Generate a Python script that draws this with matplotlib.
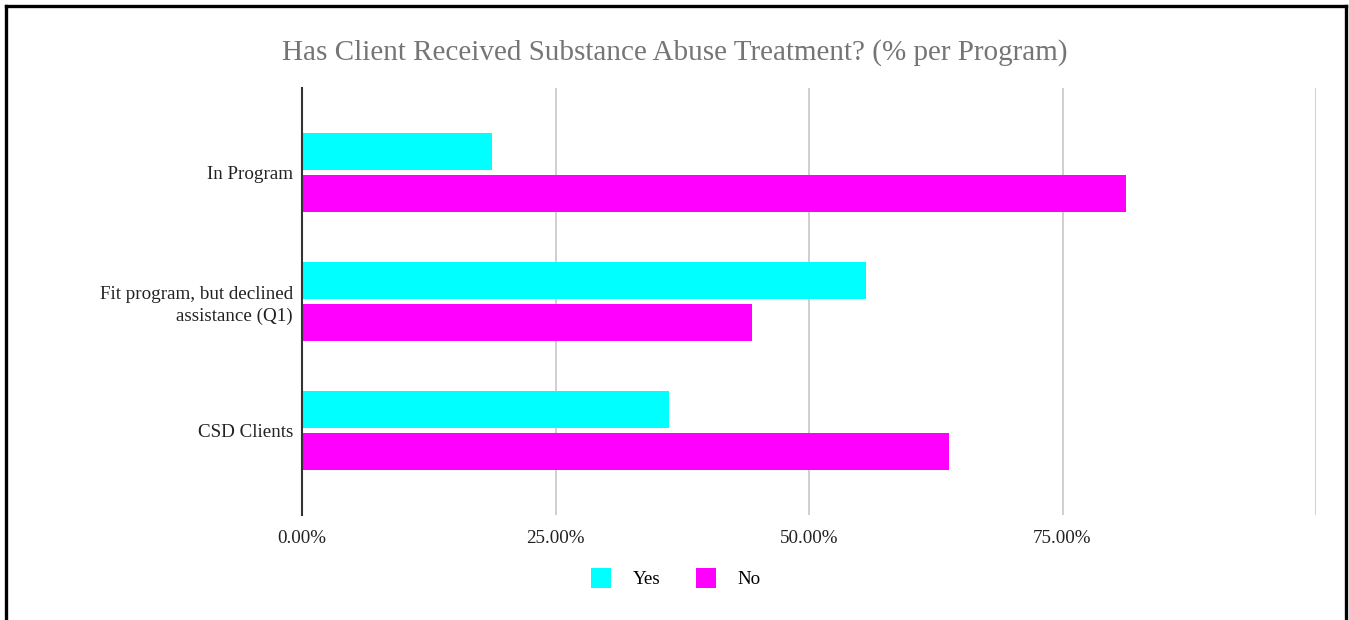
import matplotlib.pyplot as plt
from matplotlib.lines import Line2D
from matplotlib.patches import Patch
from matplotlib.ticker import FuncFormatter

categories = ["In Program", "Fit program, but declined\nassistance (Q1)", "CSD Clients"]
yes_pct = [18.7, 55.6, 36.2]
no_pct = [81.3, 44.4, 63.8]
x_ticks = [0, 25, 50, 75, 100]

YES_COLOR = "#00ffff"
NO_COLOR = "#ff00ff"

plt.rcParams["font.family"] = ["Liberation Serif", "DejaVu Serif"]

fig = plt.figure(figsize=(13.49, 6.2), dpi=100)
ax = fig.add_axes([302 / 1349, 1 - 515 / 620, (1316 - 302) / 1349, (515 - 88) / 620])

pos = list(range(len(categories)))
h = 0.288
off = 0.163
ax.barh([p - off for p in pos], yes_pct, height=h, color=YES_COLOR, zorder=3)
ax.barh([p + off for p in pos], no_pct, height=h, color=NO_COLOR, zorder=3)

ax.set_ylim(len(categories) - 1 + 0.66, -0.66)
ax.set_xlim(0, 100)
ax.set_yticks(pos)
ax.set_yticklabels(categories, fontsize=13.7, color="#222222", linespacing=1.35)
ax.set_xticks(x_ticks)
ax.xaxis.set_major_formatter(FuncFormatter(lambda v, _: "" if v >= 100 else f"{v:.2f}%"))
ax.tick_params(axis="x", length=0, labelsize=13.7, labelcolor="#222222", pad=10.5)
ax.tick_params(axis="y", length=0, pad=6.5)
ax.grid(axis="x", color="#cccccc", linewidth=1.3, zorder=0)
for s in ["top", "right", "bottom"]:
    ax.spines[s].set_visible(False)
ax.spines["left"].set_color("#333333")
ax.spines["left"].set_linewidth(1.5)
ax.spines["left"].set_zorder(4)

fig.text(0.5, 1 - 53 / 620, "Has Client Received Substance Abuse Treatment? (% per Program)",
         ha="center", va="center", fontsize=21, color="#757575")

handles = [Patch(facecolor=YES_COLOR, edgecolor="none", label="Yes"),
           Patch(facecolor=NO_COLOR, edgecolor="none", label="No")]
fig.legend(handles=handles, loc="center", bbox_to_anchor=(676 / 1349, 1 - 578 / 620),
           ncol=2, frameon=False, fontsize=13.7, handlelength=1.05, handleheight=1.25,
           handletextpad=1.15, columnspacing=1.85)

# outer black frame (bottom edge runs off the image)
for xs, ys in [([6 / 1349, 6 / 1349], [0, 1 - 6 / 620]),
               ([6 / 1349, 1346 / 1349], [1 - 6 / 620, 1 - 6 / 620]),
               ([1346 / 1349, 1346 / 1349], [0, 1 - 6 / 620])]:
    fig.add_artist(Line2D(xs, ys, transform=fig.transFigure, color="black", linewidth=2.4))

fig.savefig("out.png", dpi=100)
